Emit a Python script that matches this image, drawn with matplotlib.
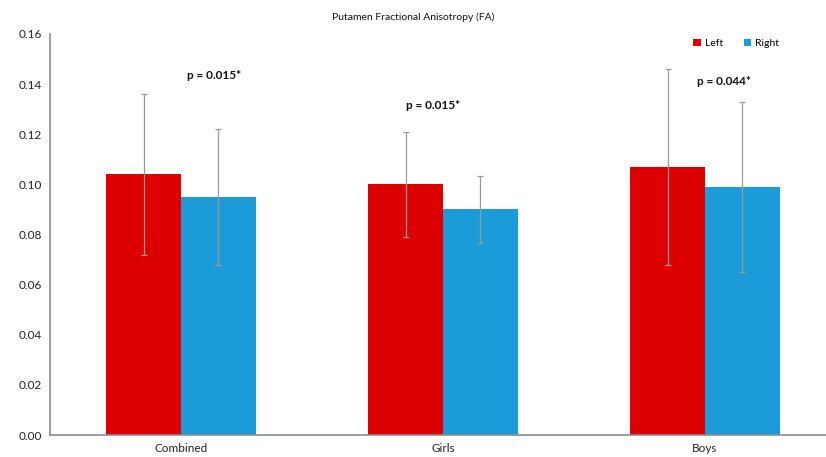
import matplotlib
matplotlib.use("Agg")
import matplotlib.pyplot as plt
import numpy as np

categories = ["Combined", "Girls", "Boys"]
left_means = [0.104, 0.100, 0.107]
right_means = [0.095, 0.090, 0.099]
left_sd = [0.032, 0.021, 0.039]
right_sd = [0.027, 0.0135, 0.034]
p_labels = ["p = 0.015*", "p = 0.015*", "p = 0.044*"]
p_heights = [0.1435, 0.1315, 0.141]
p_offsets = [0.126, -0.038, 0.073]

plt.rcParams["font.family"] = ["Lato", "DejaVu Sans"]

fig = plt.figure(figsize=(8.26, 4.57), dpi=100)
ax = fig.add_axes([50 / 826, 22 / 457, 776 / 826, 401 / 457])

x = np.arange(len(categories))
width = 0.286
err_style = dict(ecolor="#9a9a9a", elinewidth=0.9, capsize=2.5, capthick=0.9)

ax.bar(x - width / 2, left_means, width, color="#dd0000", label="Left",
       yerr=left_sd, error_kw=err_style)
ax.bar(x + width / 2, right_means, width, color="#1b9bd7", label="Right",
       yerr=right_sd, error_kw=err_style)

for xi, text, h, off in zip(x, p_labels, p_heights, p_offsets):
    ax.text(xi + off, h, text, ha="center", va="center", fontsize=8.5,
            fontweight="bold", color="#111111")

ax.set_xlim(-0.5, -0.5 + 776 / 262)
ax.set_ylim(0, 0.16)
ax.set_yticks(np.arange(0, 0.161, 0.02))
ax.set_yticklabels([f"{v:.2f}" for v in np.arange(0, 0.161, 0.02)])
ax.set_xticks(x)
ax.set_xticklabels(categories)
ax.tick_params(axis="both", length=0, labelsize=8.5, colors="#222222", pad=6)

for side in ["top", "right"]:
    ax.spines[side].set_visible(False)
for side in ["left", "bottom"]:
    ax.spines[side].set_color("#8c8c8c")
    ax.spines[side].set_linewidth(1.2)

fig.text(413 / 826, 1 - 17 / 457, "Putamen Fractional Anisotropy (FA)",
         ha="center", va="center", fontsize=7.5, color="#111111")

ax.legend(loc="upper right", bbox_to_anchor=(0.952, 1.012), ncol=2, frameon=False,
          fontsize=7.5, handlelength=0.7, handleheight=0.7, columnspacing=2.0,
          handletextpad=0.4)

fig.savefig("out.png", dpi=100)
